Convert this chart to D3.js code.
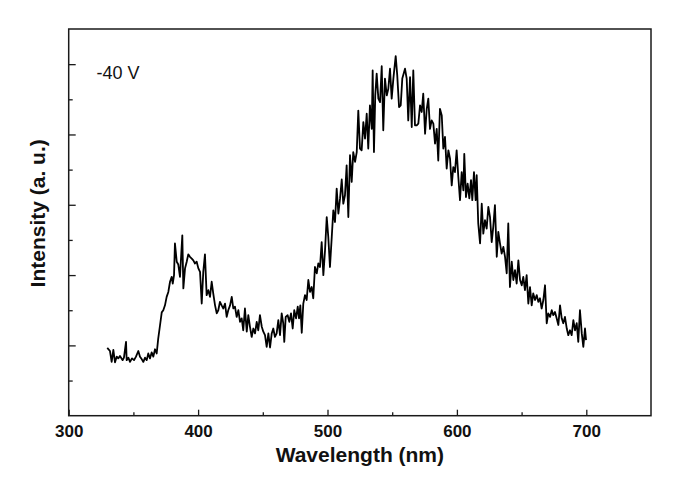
<!DOCTYPE html>
<html>
<head>
<meta charset="utf-8">
<script src="https://cdn.jsdelivr.net/npm/d3@7"></script>
<style>
  html, body { margin: 0; padding: 0; background: #fff; }
  svg { display: block; }
</style>
</head>
<body>
<svg id="chart" width="685" height="484"></svg>
<script>
// ---- data ----
const wavelength = [
329.8,331.9,333.2,334.5,335.8,337.1,338.3,339.6,341.7,342.7,344.3,344.8,346.1,347.4,348.9,350.5,352.0,353.8,355.1,356.4,
357.7,359.0,360.3,361.5,362.8,364.1,365.4,366.7,368.0,369.2,370.6,371.9,373.1,374.4,375.7,377.0,378.3,379.6,380.4,381.4,
382.1,383.5,384.7,386.0,387.8,388.6,389.9,391.2,392.4,393.7,395.1,396.3,397.6,398.9,400.2,401.5,402.8,404.0,405.3,406.6,
407.9,409.2,410.5,411.7,413.1,414.4,415.6,416.9,418.2,419.5,420.8,422.1,423.3,424.7,426.0,427.2,428.5,429.8,431.1,432.4,
433.7,434.9,436.2,437.6,438.8,440.1,441.4,442.7,444.0,445.3,446.5,447.8,449.2,450.4,451.7,453.0,454.3,455.6,456.9,458.1,
459.4,460.7,462.0,463.3,464.6,465.8,466.6,467.7,469.2,470.5,471.8,473.1,474.3,475.7,477.0,478.0,479.0,480.1,481.3,482.6,
483.9,485.2,486.5,487.8,489.0,490.3,491.7,492.9,494.2,495.5,496.8,498.1,499.4,500.6,501.9,503.3,504.5,505.8,507.1,508.4,
509.7,511.0,512.2,513.5,514.8,516.1,517.4,518.7,519.9,521.3,522.6,523.8,525.1,526.4,527.7,529.0,530.3,531.5,532.8,534.2,
534.9,535.9,536.9,538.0,539.3,540.6,541.9,543.1,544.4,545.8,547.0,548.3,549.6,550.9,552.7,553.9,555.3,556.6,557.8,559.9,
561.2,562.4,563.8,565.1,566.3,567.6,568.9,570.2,571.5,572.8,574.0,575.4,576.7,577.9,579.2,580.5,581.8,583.1,584.4,585.6,
586.9,588.3,589.5,590.8,592.1,593.4,594.7,596.0,597.2,598.5,599.8,601.1,602.4,603.7,605.0,605.7,607.0,608.3,609.6,610.9,
611.9,613.2,614.5,615.3,616.5,617.9,619.2,620.4,621.7,623.0,624.3,625.6,626.9,628.1,629.4,630.8,632.0,633.3,634.6,635.9,
637.2,638.5,639.7,641.0,642.4,643.6,644.9,646.2,647.5,648.8,650.1,651.3,652.6,653.9,655.2,656.5,657.8,659.0,660.4,661.7,
662.9,664.2,665.5,666.8,668.1,669.4,670.6,672.0,673.3,674.5,675.8,677.1,678.4,679.7,681.0,682.2,683.5,684.9,686.1,687.4,
688.7,690.0,691.3,692.6,693.8,695.1,696.5,697.7,699.0,699.8
];
const intensity = [
1.93,1.84,1.53,1.87,1.52,1.68,1.63,1.70,1.58,1.65,2.10,1.58,1.65,1.53,1.63,1.58,1.68,1.84,1.68,1.61,
1.53,1.65,1.58,1.77,1.63,1.80,1.68,1.89,1.77,2.20,2.58,2.94,3.00,3.14,3.38,3.52,3.81,3.95,3.76,4.00,
4.90,4.38,4.30,3.95,5.13,3.62,4.19,4.38,4.59,4.52,4.47,4.42,4.33,4.38,4.19,4.09,3.19,4.09,4.59,3.43,
3.57,3.38,3.81,3.48,3.14,2.91,3.00,3.24,3.14,3.05,3.19,2.81,3.00,3.14,3.38,3.05,3.10,2.81,3.00,2.67,
2.77,2.43,3.05,2.39,2.86,2.53,2.24,2.48,2.34,2.67,2.43,2.86,2.53,2.39,2.29,1.96,2.34,1.94,2.34,2.48,
2.24,2.34,2.72,2.29,2.91,2.63,2.10,2.81,2.86,2.67,2.91,2.48,3.00,2.77,3.10,2.77,3.14,2.36,3.19,3.43,
3.29,3.86,3.52,3.66,3.34,4.23,4.05,4.33,4.23,4.94,4.00,4.71,5.65,5.09,4.23,5.09,5.84,5.51,6.46,5.75,
6.18,6.72,6.03,6.27,7.12,5.65,7.41,6.65,7.50,7.22,7.50,8.68,7.60,7.55,8.35,7.88,8.59,7.60,8.83,8.16,
9.82,7.50,9.11,9.73,9.02,8.92,9.94,8.12,9.59,9.11,9.30,9.87,9.02,9.59,10.23,9.68,8.78,8.83,9.59,9.87,
9.59,8.40,9.63,8.21,9.82,8.26,8.26,8.31,8.83,8.64,9.16,8.02,8.73,9.02,8.16,8.40,8.31,7.74,8.16,7.26,
8.73,8.54,7.60,7.93,7.03,7.55,7.31,6.55,7.07,6.93,7.55,6.79,6.13,6.93,6.41,7.45,6.22,6.60,6.18,6.70,
6.13,6.93,6.13,6.84,5.47,4.90,6.03,5.18,5.56,5.32,5.94,5.65,4.94,5.37,5.99,4.52,5.23,4.90,4.61,4.80,
4.52,4.05,5.47,3.66,4.38,3.86,4.14,3.76,4.42,3.86,3.71,3.95,3.57,4.00,3.19,3.66,3.14,3.48,3.29,3.43,
3.24,3.34,3.05,3.29,3.71,2.63,2.91,2.81,3.00,2.86,2.95,2.77,2.58,3.14,2.77,2.63,2.81,2.48,2.29,2.43,
2.29,2.72,2.43,2.63,2.10,3.00,2.34,1.96,2.48,2.15
];
const xDomain = [300, 750];
const yDomain = [0, 11];
const xMajorTicks = [300, 400, 500, 600, 700];
const xMinorTicks = [350, 450, 550, 650];
const yMajorTicks = [2, 4, 6, 8, 10];
const yMinorTicks = [1, 3, 5, 7, 9];
const annotation = "-40 V";
const xTitle = "Wavelength (nm)";
const yTitle = "Intensity (a. u.)";

// ---- layout ----
const W = 685, H = 484;
const margin = { left: 68.7, right: 34, top: 29, bottom: 68.3 };
const iw = W - margin.left - margin.right;
const ih = H - margin.top - margin.bottom;
const axisColor = "#1a1a1a";
const font = "Liberation Sans, Arial, sans-serif";

const svg = d3.select("#chart");
const g = svg.append("g").attr("transform", `translate(${margin.left},${margin.top})`);

const x = d3.scaleLinear().domain(xDomain).range([0, iw]);
const y = d3.scaleLinear().domain(yDomain).range([ih, 0]);

// curve
const data = wavelength.map((w, i) => ({ w, v: intensity[i] }));
g.append("path")
  .datum(data)
  .attr("fill", "none")
  .attr("stroke", "#000")
  .attr("stroke-width", 1.8)
  .attr("stroke-linejoin", "round")
  .attr("d", d3.line().x(d => x(d.w)).y(d => y(d.v)));

function styleAxis(sel) {
  sel.select(".domain").remove();
  sel.selectAll(".tick line").attr("stroke", axisColor).attr("stroke-width", 1.3);
}

// x axis major ticks + labels
const xAx = g.append("g").attr("transform", `translate(0,${ih})`)
  .call(d3.axisBottom(x).tickValues(xMajorTicks).tickSizeInner(-6).tickSizeOuter(0).tickPadding(9).tickFormat(d3.format("d")));
styleAxis(xAx);
xAx.selectAll(".tick text")
  .attr("fill", "#111")
  .style("font-family", font)
  .style("font-weight", "bold")
  .style("font-size", "17px");

// x axis minor ticks
const xMin = g.append("g").attr("transform", `translate(0,${ih})`)
  .call(d3.axisBottom(x).tickValues(xMinorTicks).tickSizeInner(-3.5).tickSizeOuter(0).tickFormat(""));
styleAxis(xMin);

// y axis major ticks
const yAx = g.append("g")
  .call(d3.axisLeft(y).tickValues(yMajorTicks).tickSizeInner(-7).tickSizeOuter(0).tickFormat(""));
styleAxis(yAx);
// y axis minor ticks
const yMin = g.append("g")
  .call(d3.axisLeft(y).tickValues(yMinorTicks).tickSizeInner(-4).tickSizeOuter(0).tickFormat(""));
styleAxis(yMin);

// frame
g.append("rect")
  .attr("x", 0).attr("y", 0).attr("width", iw).attr("height", ih)
  .attr("fill", "none").attr("stroke", axisColor).attr("stroke-width", 1.5);

// annotation
g.append("text")
  .attr("x", x(321.5))
  .attr("y", y(9.59))
  .attr("fill", "#111")
  .style("font-family", font)
  .style("font-size", "18px")
  .text(annotation);

// axis titles
svg.append("text")
  .attr("x", margin.left + iw / 2)
  .attr("y", 462)
  .attr("text-anchor", "middle")
  .attr("fill", "#111")
  .style("font-family", font)
  .style("font-weight", "bold")
  .style("font-size", "21px")
  .text(xTitle);

svg.append("text")
  .attr("transform", `translate(45,${margin.top + ih / 2 - 9}) rotate(-90)`)
  .attr("text-anchor", "middle")
  .attr("fill", "#111")
  .style("font-family", font)
  .style("font-weight", "bold")
  .style("font-size", "21px")
  .text(yTitle);
</script>
</body>
</html>
